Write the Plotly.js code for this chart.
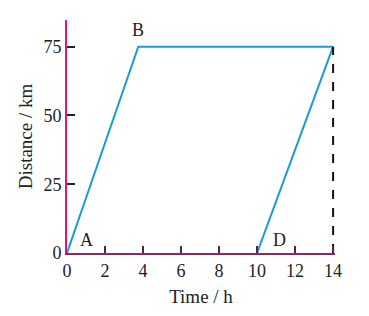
<!DOCTYPE html>
<html><head><meta charset="utf-8">
<script src="https://cdn.plot.ly/plotly-3.0.1.min.js"></script>
<style>body{margin:0;background:#fff}</style>
</head><body>
<div id="chart" style="width:369px;height:316px"></div>
<script>
var journeyX = [0, 3.75, 14];
var journeyY = [0, 75, 75];
var returnX = [10, 14];
var returnY = [0, 75];
var dropX = [14, 14];
var dropY = [0, 75];
var pointLabels = ["A", "B", "C", "D"];
var labelX = [1.0, 3.75, 14.2, 11.2];
var labelY = [4.8, 81, 81, 4.8];
var xTicks = [0, 2, 4, 6, 8, 10, 12, 14];
var yTicks = [0, 25, 50, 75];

var font = "Liberation Serif, Times New Roman, serif";
var traces = [
  {x: journeyX, y: journeyY, mode: "lines", line: {color: "#1a9bd0", width: 2}, hoverinfo: "skip"},
  {x: returnX, y: returnY, mode: "lines", line: {color: "#1a9bd0", width: 2}, hoverinfo: "skip"},
  {x: dropX, y: dropY, mode: "lines", line: {color: "#111", width: 2, dash: "dash"}, hoverinfo: "skip"}
];
var annotations = pointLabels.map(function(t, i){
  return {x: labelX[i], y: labelY[i], text: t, showarrow: false, font: {family: font, size: 18, color: "#222"}};
});
var layout = {
  width: 369, height: 316,
  margin: {l: 67, r: 34, t: 20, b: 63},
  showlegend: false,
  paper_bgcolor: "#fff", plot_bgcolor: "#fff",
  font: {family: font, size: 18, color: "#222"},
  xaxis: {
    range: [0, 14.1], tickvals: xTicks, ticktext: xTicks.map(String),
    showgrid: false, zeroline: false, showline: true, linecolor: "#8a2a62", linewidth: 2,
    ticks: "inside", ticklen: 7, tickwidth: 2, tickcolor: "#5a2040",
    tickfont: {family: font, size: 18, color: "#222"},
    title: {text: "Time / h", font: {family: font, size: 19, color: "#222"}, standoff: 10}
  },
  yaxis: {
    range: [0, 84.7], tickvals: yTicks, ticktext: yTicks.map(String),
    showgrid: false, zeroline: false, showline: true, linecolor: "#d6197a", linewidth: 2,
    ticks: "inside", ticklen: 8, tickwidth: 2, tickcolor: "#222",
    tickfont: {family: font, size: 18, color: "#222"},
    title: {text: "Distance / km", font: {family: font, size: 19, color: "#222"}, standoff: 6}
  },
  annotations: annotations
};
Plotly.newPlot("chart", traces, layout, {displayModeBar: false, staticPlot: true});
</script>
</body></html>
